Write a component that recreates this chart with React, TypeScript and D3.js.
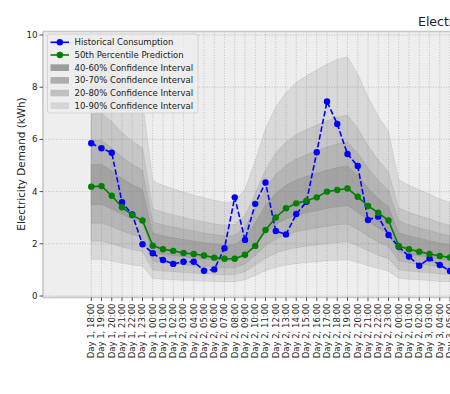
import React from 'react';
import * as d3 from 'd3';

// x tick labels, as printed in the figure
const timeLabels = [
  'Day 1, 18:00', 'Day 1, 19:00', 'Day 1, 20:00', 'Day 1, 21:00', 'Day 1, 22:00', 'Day 1, 23:00',
  'Day 1, 00:00', 'Day 1, 01:00', 'Day 1, 02:00', 'Day 2, 03:00', 'Day 2, 04:00', 'Day 2, 05:00',
  'Day 2, 06:00', 'Day 2, 07:00', 'Day 2, 08:00', 'Day 2, 09:00', 'Day 2, 10:00', 'Day 2, 11:00',
  'Day 2, 12:00', 'Day 2, 13:00', 'Day 2, 14:00', 'Day 2, 15:00', 'Day 2, 16:00', 'Day 2, 17:00',
  'Day 2, 18:00', 'Day 2, 19:00', 'Day 2, 20:00', 'Day 2, 21:00', 'Day 2, 22:00', 'Day 2, 23:00',
  'Day 2, 00:00', 'Day 2, 01:00', 'Day 2, 02:00', 'Day 3, 03:00', 'Day 3, 04:00', 'Day 3, 05:00',
];

const historical = [
  5.85, 5.66, 5.49, 3.59, 3.12, 1.98, 1.64, 1.38, 1.23, 1.31, 1.31, 0.97,
  1.02, 1.83, 3.78, 2.15, 3.53, 4.35, 2.49, 2.36, 3.14, 3.61, 5.51, 7.45,
  6.59, 5.44, 4.98, 2.91, 3.04, 2.34, 1.89, 1.51, 1.16, 1.44, 1.19, 0.96,
];

const median = [
  4.19, 4.21, 3.84, 3.40, 3.10, 2.89, 1.93, 1.79, 1.73, 1.65, 1.61, 1.55,
  1.47, 1.43, 1.43, 1.58, 1.92, 2.53, 3.01, 3.36, 3.55, 3.65, 3.78, 4.00,
  4.06, 4.12, 3.80, 3.45, 3.19, 2.89, 1.92, 1.79, 1.70, 1.61, 1.53, 1.48,
];

const p10 = [
  1.40, 1.41, 1.34, 1.26, 1.19, 1.14, 0.67, 0.64, 0.62, 0.60, 0.59, 0.57,
  0.56, 0.54, 0.55, 0.62, 0.79, 0.97, 1.10, 1.18, 1.24, 1.28, 1.31, 1.35,
  1.37, 1.39, 1.29, 1.16, 1.05, 0.95, 0.68, 0.64, 0.62, 0.59, 0.56, 0.55,
];
const p20 = [
  2.10, 2.10, 2.00, 1.88, 1.78, 1.70, 1.00, 0.96, 0.93, 0.90, 0.88, 0.85,
  0.83, 0.81, 0.82, 0.93, 1.18, 1.45, 1.64, 1.77, 1.85, 1.91, 1.96, 2.01,
  2.05, 2.08, 1.93, 1.73, 1.56, 1.43, 1.01, 0.96, 0.92, 0.89, 0.84, 0.82,
];
const p30 = [
  2.79, 2.79, 2.66, 2.49, 2.36, 2.26, 1.33, 1.28, 1.24, 1.20, 1.16, 1.13,
  1.10, 1.08, 1.09, 1.23, 1.56, 1.93, 2.18, 2.35, 2.46, 2.54, 2.61, 2.67,
  2.73, 2.76, 2.56, 2.29, 2.07, 1.90, 1.34, 1.28, 1.22, 1.18, 1.12, 1.08,
];
const p40 = [
  3.50, 3.51, 3.34, 3.13, 2.96, 2.84, 1.67, 1.60, 1.55, 1.50, 1.46, 1.42,
  1.39, 1.35, 1.37, 1.54, 1.96, 2.42, 2.74, 2.95, 3.09, 3.19, 3.27, 3.36,
  3.42, 3.47, 3.21, 2.88, 2.61, 2.38, 1.69, 1.60, 1.54, 1.48, 1.40, 1.36,
];
const p60 = [
  5.03, 5.04, 4.80, 4.50, 4.26, 4.08, 2.40, 2.30, 2.23, 2.16, 2.10, 2.04,
  1.99, 1.94, 1.97, 2.22, 2.82, 3.48, 3.94, 4.24, 4.44, 4.58, 4.70, 4.82,
  4.92, 4.98, 4.62, 4.14, 3.74, 3.42, 2.42, 2.30, 2.21, 2.12, 2.02, 1.96,
];
const p70 = [
  5.95, 5.96, 5.68, 5.33, 5.04, 4.83, 2.84, 2.73, 2.64, 2.56, 2.49, 2.41,
  2.36, 2.30, 2.33, 2.63, 3.34, 4.12, 4.66, 5.01, 5.25, 5.42, 5.57, 5.71,
  5.82, 5.89, 5.47, 4.90, 4.43, 4.05, 2.87, 2.73, 2.61, 2.51, 2.39, 2.31,
];
const p80 = [
  7.00, 7.01, 6.68, 6.26, 5.93, 5.68, 3.34, 3.21, 3.11, 3.01, 2.92, 2.84,
  2.77, 2.71, 2.74, 3.09, 3.92, 4.84, 5.48, 5.90, 6.18, 6.38, 6.55, 6.71,
  6.85, 6.93, 6.43, 5.76, 5.21, 4.76, 3.37, 3.21, 3.07, 2.96, 2.81, 2.72,
];
const p90 = [
  9.26, 9.28, 8.84, 8.29, 7.85, 7.51, 4.42, 4.24, 4.11, 3.98, 3.87, 3.76,
  3.67, 3.58, 3.62, 4.09, 5.19, 6.41, 7.25, 7.80, 8.18, 8.44, 8.66, 8.88,
  9.06, 9.17, 8.51, 7.62, 6.90, 6.30, 4.46, 4.24, 4.07, 3.91, 3.71, 3.60,
];

const yTicks = [0, 2, 4, 6, 8, 10];

// drawn widest first
const intervals = [
  { label: '10-90% Confidence Interval', lower: p10, upper: p90, alpha: 0.19, swatch: '#d6d6d6' },
  { label: '20-80% Confidence Interval', lower: p20, upper: p80, alpha: 0.21, swatch: '#c0c0c0' },
  { label: '30-70% Confidence Interval', lower: p30, upper: p70, alpha: 0.24, swatch: '#adadad' },
  { label: '40-60% Confidence Interval', lower: p40, upper: p60, alpha: 0.34, swatch: '#9c9c9c' },
];

const W = 450;
const H = 394;
const left = 43;
const top = 31.5;
const bottom = 297.5;
const font = 'DejaVu Sans, sans-serif';

export default function App() {
  const idx = d3.range(historical.length);
  const x = d3.scaleLinear().domain([0, 35]).range([91.25, 450]);
  const y = d3.scaleLinear().domain([0, 10]).range([296, 35]);

  const line = (vals: number[]) =>
    d3.line<number>().x((_, i) => x(i)).y(d => y(d))(vals) || '';
  const area = (lo: number[], hi: number[]) =>
    d3.area<number>().x(i => x(i)).y0(i => y(lo[i])).y1(i => y(hi[i]))(idx) || '';

  const legendRows = [
    { kind: 'line', label: 'Historical Consumption', color: '#0000ff', dash: true },
    { kind: 'line', label: '50th Percentile Prediction', color: '#008000', dash: false },
    ...intervals.slice().reverse().map(d => ({ kind: 'patch', label: d.label, color: d.swatch, dash: false })),
  ];

  return (
    <svg width={W} height={H} style={{ position: 'absolute', left: 0, top: 0 }} fontFamily={font}>
      <defs>
        <clipPath id="plot">
          <rect x={left} y={top} width={W - left} height={bottom - top} />
        </clipPath>
      </defs>
      <rect width={W} height={H} fill="#ffffff" />
      <rect x={left} y={top} width={W - left + 10} height={bottom - top} fill="#eeeeee" />

      {/* grid */}
      <g stroke="#b2b2b2" strokeWidth={0.8} strokeDasharray="1,1.6">
        {yTicks.map(t => (
          <line key={'h' + t} x1={left} x2={W} y1={y(t)} y2={y(t)} />
        ))}
        {idx.map(i => (
          <line key={'v' + i} x1={x(i)} x2={x(i)} y1={top} y2={bottom} />
        ))}
      </g>

      <g clipPath="url(#plot)">
        {intervals.map(d => (
          <path key={d.label} d={area(d.lower, d.upper)} fill="#808080" fillOpacity={d.alpha}
            stroke="#808080" strokeOpacity={d.alpha} strokeWidth={0.8} />
        ))}
        <path d={line(historical)} fill="none" stroke="#0000ff" strokeWidth={1.6} strokeDasharray="5.5,2.4" />
        {historical.map((v, i) => (
          <circle key={'b' + i} cx={x(i)} cy={y(v)} r={3.2} fill="#0000ff" />
        ))}
        <path d={line(median)} fill="none" stroke="#008000" strokeWidth={1.6} />
        {median.map((v, i) => (
          <circle key={'g' + i} cx={x(i)} cy={y(v)} r={3.2} fill="#008000" />
        ))}
      </g>

      {/* spines */}
      <g stroke="#c6c6c6" strokeWidth={1.6} fill="none">
        <line x1={left} x2={W} y1={top} y2={top} />
        <line x1={left} x2={W} y1={bottom} y2={bottom} />
        <line x1={left} x2={left} y1={top} y2={bottom} />
      </g>

      {/* y axis */}
      {yTicks.map(t => (
        <g key={'yt' + t}>
          <line x1={39.5} x2={left} y1={y(t)} y2={y(t)} stroke="#222" strokeWidth={0.8} />
          <text x={37.5} y={y(t)} dy="0.35em" textAnchor="end" fontSize={8.7} fill="#222">{t}</text>
        </g>
      ))}
      <text transform={`translate(21,164) rotate(-90)`} textAnchor="middle" dy="0.35em" fontSize={10.4} fill="#222">
        Electricity Demand (kWh)
      </text>

      {/* x axis */}
      {timeLabels.map((lab, i) => (
        <g key={'xt' + i}>
          <line x1={x(i)} x2={x(i)} y1={bottom} y2={bottom + 3.5} stroke="#222" strokeWidth={0.8} />
          <text transform={`translate(${x(i)},303.5) rotate(-90)`} textAnchor="end" dy="0.35em" fontSize={8.5} fill="#222">
            {lab}
          </text>
        </g>
      ))}

      <text x={418} y={26} fontSize={12.5} fill="#222">Electricity Demand Forecast with Confidence Intervals</text>

      {/* legend */}
      <rect x={47.5} y={34} width={150.5} height={79} rx={2} fill="#eeeeee" fillOpacity={0.8} stroke="#cccccc" strokeWidth={0.8} />
      {legendRows.map((r, k) => {
        const cy = 42.3 + k * 12.68;
        return (
          <g key={r.label}>
            {r.kind === 'line' ? (
              <g>
                <line x1={50.5} x2={69} y1={cy} y2={cy} stroke={r.color} strokeWidth={1.6} />
                <circle cx={59.8} cy={cy} r={3.2} fill={r.color} />
              </g>
            ) : (
              <rect x={50.5} y={cy - 3.3} width={18.5} height={6.6} fill={r.color} />
            )}
            <text x={74.5} y={cy} dy="0.35em" fontSize={8.5} fill="#222">{r.label}</text>
          </g>
        );
      })}
    </svg>
  );
}
